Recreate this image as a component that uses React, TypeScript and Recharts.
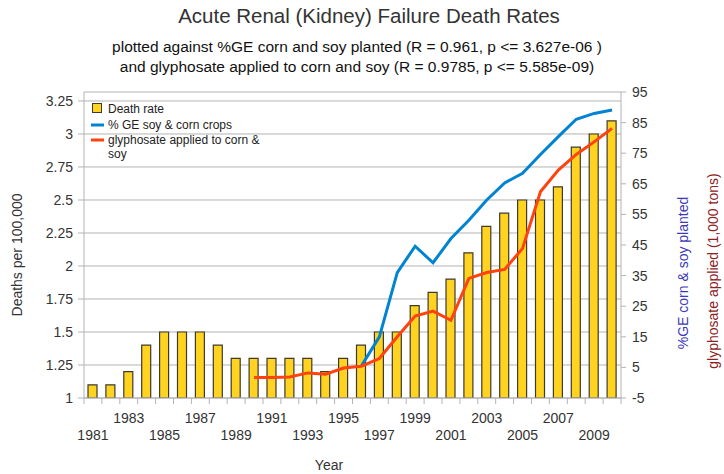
import React from 'react';
import { ComposedChart, Bar, Line, XAxis, YAxis, CartesianGrid, ReferenceLine } from 'recharts';

const years = [
  1981, 1982, 1983, 1984, 1985, 1986, 1987, 1988, 1989, 1990,
  1991, 1992, 1993, 1994, 1995, 1996, 1997, 1998, 1999, 2000,
  2001, 2002, 2003, 2004, 2005, 2006, 2007, 2008, 2009, 2010,
];
const deathRate = [
  1.1, 1.1, 1.2, 1.4, 1.5, 1.5, 1.5, 1.4, 1.3, 1.3,
  1.3, 1.3, 1.3, 1.2, 1.3, 1.4, 1.5, 1.5, 1.7, 1.8,
  1.9, 2.1, 2.3, 2.4, 2.5, 2.5, 2.6, 2.9, 3.0, 3.1,
];
const gePercent: (number | null)[] = [
  null, null, null, null, null, null, null, null, null, null,
  null, null, null, null, null, 5.5, 15, 36, 44.6, 39.2,
  47.1, 53.1, 59.7, 65.3, 68.4, 74.6, 80.4, 86.1, 88, 89.1,
];
const glyphosate: (number | null)[] = [
  null, null, null, null, null, null, null, null, null, 1.7,
  1.7, 1.9, 3.2, 2.8, 4.8, 5.4, 7.9, 15, 21.8, 23.4,
  20.4, 34.1, 36, 37, 43.9, 62.4, 69.5, 74.6, 78.7, 83.1,
];
const leftTicks = [1, 1.25, 1.5, 1.75, 2, 2.25, 2.5, 2.75, 3, 3.25];
const rightTicks = [-5, 5, 15, 25, 35, 45, 55, 65, 75, 85, 95];

const data = years.map((y, i) => ({
  year: y,
  death: deathRate[i],
  ge: gePercent[i],
  gly: glyphosate[i],
}));

const W = 724;
const H = 474;
const M = { top: 92, right: 63, bottom: 46, left: 24 };
const LEFT_W = 60;
const RIGHT_W = 40;
const X_H = 30;
const PLOT_W = W - M.left - M.right - LEFT_W - RIGHT_W;
const HALF_BAND = PLOT_W / years.length / 2;
const LEFT_MAX = 3.318;

const FONT = '"Liberation Sans", Arial, sans-serif';
const GRID = '#b3b3b3';
const TEXT = '#333333';

const YearTick = (props: any) => {
  const { x, y, payload, index } = props;
  const showLabel = index % 2 === 0;
  const upper = index % 4 === 2;
  return (
    <g>
      <line x1={x - HALF_BAND} x2={x - HALF_BAND} y1={y} y2={y + 6} stroke={GRID} />
      {index === years.length - 1 && (
        <line x1={x + HALF_BAND} x2={x + HALF_BAND} y1={y} y2={y + 6} stroke={GRID} />
      )}
      {showLabel && (
        <text
          x={x}
          y={y + (upper ? 25 : 42)}
          textAnchor="middle"
          fontFamily={FONT}
          fontSize={14}
          fill={TEXT}
        >
          {payload.value}
        </text>
      )}
    </g>
  );
};

export default function App() {
  return (
    <div style={{ position: 'absolute', left: 0, top: 0, width: W, height: H, background: '#fff' }}>
      <ComposedChart width={W} height={H} data={data} margin={M} barCategoryGap="47%">
        <CartesianGrid yAxisId="left" vertical={false} stroke={GRID} horizontalValues={leftTicks} />
        <XAxis
          dataKey="year"
          interval={0}
          height={X_H}
          tickSize={0}
          tickMargin={0}
          tickLine={false}
          axisLine={{ stroke: GRID }}
          tick={<YearTick />}
        />
        <YAxis
          yAxisId="left"
          width={LEFT_W}
          domain={[1, LEFT_MAX]}
          ticks={leftTicks}
          allowDataOverflow
          tickSize={6}
          tickMargin={5}
          axisLine={{ stroke: GRID }}
          tickLine={{ stroke: GRID }}
          tick={{ fill: TEXT, fontSize: 14, fontFamily: FONT }}
        />
        <YAxis
          yAxisId="right"
          orientation="right"
          width={RIGHT_W}
          domain={[-5, 95]}
          ticks={rightTicks}
          tickSize={5}
          tickMargin={6}
          axisLine={{ stroke: GRID }}
          tickLine={{ stroke: GRID }}
          tick={{ fill: TEXT, fontSize: 14, fontFamily: FONT, textAnchor: 'start' }}
        />
        <ReferenceLine yAxisId="left" y={LEFT_MAX} stroke={GRID} />
        <Bar
          yAxisId="left"
          dataKey="death"
          fill="#ffd320"
          stroke="#3d3a2e"
          strokeWidth={1.2}
          barSize={9}
          isAnimationActive={false}
        />
        <Line
          yAxisId="right"
          dataKey="ge"
          type="linear"
          stroke="#0084d1"
          strokeWidth={3}
          dot={false}
          isAnimationActive={false}
        />
        <Line
          yAxisId="right"
          dataKey="gly"
          type="linear"
          stroke="#ff420e"
          strokeWidth={3}
          dot={false}
          isAnimationActive={false}
        />
      </ComposedChart>
      <svg
        width={W}
        height={H}
        style={{ position: 'absolute', left: 0, top: 0, pointerEvents: 'none' }}
        fontFamily={FONT}
      >
        <text x={369} y={23} textAnchor="middle" fontSize={20.5} fill={TEXT}>
          Acute Renal (Kidney) Failure Death Rates
        </text>
        <text x={357} y={52} textAnchor="middle" fontSize={15.5} fill="#111">
          plotted against %GE corn and soy planted (R = 0.961, p &lt;= 3.627e-06 )
        </text>
        <text x={357} y={72} textAnchor="middle" fontSize={15.5} fill="#111">
          and glyphosate applied to corn and soy (R = 0.9785, p &lt;= 5.585e-09)
        </text>
        <text x={329} y={470} textAnchor="middle" fontSize={14} fill={TEXT}>
          Year
        </text>
        <text
          x={22}
          y={255}
          textAnchor="middle"
          fontSize={14}
          fill={TEXT}
          transform="rotate(-90 22 255)"
        >
          Deaths per 100,000
        </text>
        <text
          x={688}
          y={273}
          textAnchor="middle"
          fontSize={14}
          fill="#3a3ab8"
          transform="rotate(-90 688 273)"
        >
          %GE corn &amp; soy planted
        </text>
        <text
          x={718}
          y={271}
          textAnchor="middle"
          fontSize={14}
          fill="#8b2323"
          transform="rotate(-90 718 271)"
        >
          glyphosate applied (1,000 tons)
        </text>
        <g fontSize={12} fill="#222">
          <rect x={92.5} y={103.5} width={9} height={9} fill="#ffd320" stroke="#3d3a2e" />
          <text x={108} y={113}>Death rate</text>
          <line x1={91} x2={104} y1={125} y2={125} stroke="#0084d1" strokeWidth={3} />
          <text x={108} y={129}>% GE soy &amp; corn crops</text>
          <line x1={91} x2={104} y1={140} y2={140} stroke="#ff420e" strokeWidth={3} />
          <text x={108} y={144}>glyphosate applied to corn &amp;</text>
          <text x={108} y={158}>soy</text>
        </g>
      </svg>
    </div>
  );
}
